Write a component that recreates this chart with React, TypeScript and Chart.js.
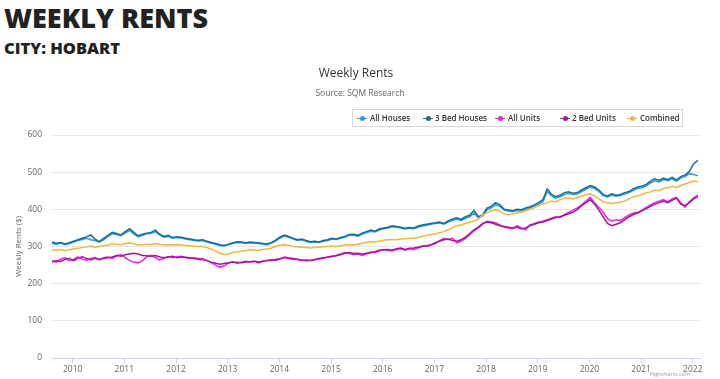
import { useEffect, useRef } from 'react';
import { Chart, registerables } from 'chart.js';
Chart.register(...registerables);

// Monthly series starting around Aug 2009 (decimal year 2009.6)
const START_YEAR = 2009.6;

const allHouses = [
  308, 306, 309, 305, 308, 312, 316, 319, 322, 318, 316, 312,
  318, 327, 334, 332, 329, 336, 343, 334, 326, 330, 334, 335,
  340, 331, 325, 327, 322, 324, 323, 320, 318, 316, 315, 316,
  312, 309, 306, 303, 302, 305, 308, 311, 310, 309, 310, 309,
  308, 306, 305, 309, 315, 323, 328, 325, 320, 316, 318, 314,
  311, 312, 311, 314, 316, 320, 319, 322, 325, 330, 331, 328,
  333, 337, 341, 339, 344, 348, 350, 353, 352, 350, 347, 349,
  348, 352, 355, 357, 360, 362, 363, 360, 366, 370, 373, 370,
  376, 380, 390, 378, 382, 398, 404, 412, 408, 398, 395, 394,
  397, 396, 400, 404, 408, 414, 420, 448, 436, 430, 434, 440,
  443, 440, 441, 448, 454, 460, 456, 448, 437, 433, 438, 435,
  437, 441, 445, 451, 456, 458, 463, 471, 477, 474, 480, 477,
  482, 476, 484, 488, 496, 494, 490,
];

const threeBedHouses = [
  312, 309, 311, 307, 310, 314, 318, 322, 326, 331, 320, 313,
  322, 330, 338, 335, 331, 340, 348, 338, 329, 333, 336, 338,
  344, 333, 327, 330, 324, 326, 325, 322, 320, 318, 317, 318,
  314, 311, 308, 305, 303, 306, 310, 313, 312, 310, 312, 311,
  310, 308, 307, 311, 318, 326, 331, 327, 322, 318, 320, 316,
  313, 314, 312, 316, 318, 322, 320, 324, 327, 332, 333, 330,
  336, 340, 344, 341, 347, 350, 352, 356, 354, 352, 349, 351,
  350, 355, 358, 360, 362, 364, 366, 362, 369, 374, 377, 373,
  380, 384, 397, 380, 385, 403, 408, 418, 412, 400, 398, 396,
  400, 399, 404, 407, 412, 418, 426, 455, 440, 434, 438, 445,
  447, 443, 445, 452, 458, 464, 460, 452, 440, 436, 442, 438,
  440, 445, 448, 455, 460, 462, 467, 476, 482, 478, 484, 480,
  486, 479, 488, 492, 502, 522, 532,
];

const allUnits = [
  262, 258, 266, 270, 262, 265, 272, 266, 263, 268, 270, 264,
  270, 272, 268, 275, 278, 270, 262, 258, 256, 262, 272, 276,
  270, 264, 268, 273, 270, 272, 274, 270, 268, 270, 267, 268,
  262, 256, 250, 244, 248, 256, 258, 255, 258, 260, 258, 260,
  256, 260, 263, 262, 266, 268, 272, 270, 268, 265, 262, 264,
  262, 264, 266, 268, 272, 274, 276, 280, 284, 282, 278, 280,
  276, 280, 285, 283, 288, 292, 290, 288, 292, 294, 290, 294,
  292, 296, 302, 300, 304, 308, 316, 322, 318, 322, 310, 314,
  322, 332, 342, 350, 360, 368, 366, 364, 358, 352, 350, 348,
  356, 350, 345, 358, 362, 366, 368, 372, 376, 380, 378, 386,
  392, 398, 404, 412, 422, 432, 418, 405, 392, 375, 368, 372,
  370, 378, 385, 390, 392, 398, 405, 412, 418, 422, 426, 420,
  428, 432, 418, 406, 420, 430, 438,
];

const twoBedUnits = [
  258, 262, 260, 265, 268, 262, 268, 272, 268, 264, 268, 266,
  268, 270, 272, 276, 274, 278, 280, 282, 280, 276, 275, 274,
  276, 272, 270, 272, 274, 270, 272, 271, 270, 268, 266, 264,
  262, 258, 255, 252, 254, 256, 258, 257, 256, 258, 259, 260,
  258, 261, 262, 264, 263, 266, 270, 268, 266, 266, 264, 262,
  263, 265, 268, 270, 271, 273, 275, 278, 282, 284, 281, 282,
  280, 282, 283, 286, 290, 291, 292, 290, 294, 296, 292, 295,
  296, 298, 300, 302, 305, 310, 314, 318, 320, 316, 314, 318,
  325, 335, 345, 352, 362, 366, 364, 360, 356, 354, 352, 350,
  352, 348, 350, 356, 360, 364, 366, 370, 374, 378, 380, 384,
  388, 392, 400, 410, 418, 426, 414, 398, 380, 362, 356, 360,
  364, 372, 380, 386, 390, 396, 402, 408, 414, 418, 422, 418,
  424, 430, 414, 410, 418, 428, 434,
];

const combined = [
  291, 290, 292, 289, 291, 293, 295, 297, 299, 301, 298, 300,
  302, 304, 307, 306, 305, 308, 310, 307, 304, 305, 306, 305,
  308, 306, 304, 305, 304, 305, 304, 303, 302, 301, 300, 300,
  297, 293, 288, 282, 278, 280, 284, 286, 287, 289, 291, 290,
  290, 292, 293, 296, 300, 304, 305, 303, 300, 299, 298, 297,
  296, 297, 298, 299, 300, 301, 300, 302, 304, 305, 304, 306,
  309, 311, 313, 312, 314, 317, 318, 319, 318, 320, 321, 322,
  322, 324, 327, 330, 332, 334, 337, 340, 345, 350, 356, 358,
  362, 366, 368, 374, 385, 390, 396, 399, 395, 388, 385, 388,
  390, 392, 396, 400, 405, 410, 414, 418, 422, 420, 426, 430,
  431, 428, 432, 436, 440, 442, 436, 428, 420, 418, 416, 418,
  419, 422, 428, 434, 436, 440, 445, 447, 452, 450, 456, 458,
  462, 458, 464, 468, 472, 476, 474,
];

const seriesNames = ['All Houses', '3 Bed Houses', 'All Units', '2 Bed Units', 'Combined'];
const seriesColors = ['#2b9de0', '#1a6a96', '#ee22e6', '#9e1a96', '#f5b43a'];
const seriesData = [allHouses, threeBedHouses, allUnits, twoBedUnits, combined];

const xTickYears = [2010, 2011, 2012, 2013, 2014, 2015, 2016, 2017, 2018, 2019, 2020, 2021, 2022];
const yTickValues = [0, 100, 200, 300, 400, 500, 600];

const legendMarkerX = [357, 423, 495, 560, 627];
const legendTextX = [370, 435, 508, 572, 640];

export default function App() {
  const ref = useRef<HTMLCanvasElement>(null);

  useEffect(() => {
    document.body.style.margin = '0';
    const canvas = ref.current;
    if (!canvas) return;
    const chart = new Chart(canvas, {
      type: 'line',
      data: {
        datasets: seriesData.map((d, k) => ({
          label: seriesNames[k],
          data: d.map((v, i) => ({ x: START_YEAR + i / 12, y: v })),
          borderColor: seriesColors[k],
          backgroundColor: seriesColors[k],
          borderWidth: 1.5,
          pointRadius: 0,
          tension: 0,
          order: seriesData.length - k,
        })),
      },
      options: {
        responsive: false,
        animation: false,
        devicePixelRatio: 1,
        layout: { padding: { left: 10, right: 20, top: 135, bottom: 0 } },
        plugins: { legend: { display: false }, tooltip: { enabled: false }, title: { display: false } },
        scales: {
          x: {
            type: 'linear',
            min: 2009.6,
            max: 2022.14,
            afterBuildTicks: (s: any) => {
              s.ticks = xTickYears.map((v) => ({ value: v }));
            },
            afterFit: (s: any) => {
              s.height = 21;
            },
            ticks: {
              autoSkip: false,
              maxRotation: 0,
              padding: 1,
              color: '#666666',
              font: { family: 'Open Sans', size: 8.5 },
              callback: (v: any) => String(v),
            },
            grid: { drawOnChartArea: false, drawTicks: true, tickLength: 5, color: '#ccd6eb' },
            border: { color: '#ccd6eb' },
          },
          y: {
            min: 0,
            max: 600,
            afterBuildTicks: (s: any) => {
              s.ticks = yTickValues.map((v) => ({ value: v }));
            },
            afterFit: (s: any) => {
              s.width = 42;
            },
            ticks: {
              padding: 10,
              color: '#666666',
              font: { family: 'Open Sans', size: 8.5 },
              callback: (v: any) => String(v),
            },
            grid: { color: '#e6e6e6', drawTicks: false },
            border: { display: false },
            title: {
              display: true,
              text: 'Weekly Rents ($)',
              color: '#666666',
              font: { family: 'Open Sans', size: 8 },
              padding: { top: 4, bottom: 0 },
            },
          },
        },
      },
    } as any);
    return () => chart.destroy();
  }, []);

  return (
    <div style={{ position: 'relative', width: 720, height: 379, overflow: 'hidden', background: '#ffffff' }}>
      <div style={{ position: 'absolute', left: 4, top: 4, fontFamily: "'Open Sans', sans-serif", fontWeight: 800, fontSize: 27, lineHeight: 1, color: '#222', whiteSpace: 'nowrap' }}>
        WEEKLY RENTS
      </div>
      <div style={{ position: 'absolute', left: 4, top: 40, fontFamily: "'Open Sans', sans-serif", fontWeight: 800, fontSize: 16.5, lineHeight: 1, color: '#222', whiteSpace: 'nowrap' }}>
        CITY: HOBART
      </div>
      <canvas ref={ref} width={720} height={379} style={{ position: 'absolute', left: 0, top: 0, width: 720, height: 379 }} />
      <div style={{ position: 'absolute', left: 0, width: 712, top: 67, textAlign: 'center', fontFamily: "'Open Sans', sans-serif", fontSize: 12, lineHeight: 1, color: '#333333' }}>
        Weekly Rents
      </div>
      <div style={{ position: 'absolute', left: 0, width: 720, top: 88.5, textAlign: 'center', fontFamily: "'Open Sans', sans-serif", fontSize: 8.5, lineHeight: 1, color: '#666666' }}>
        Source: SQM Research
      </div>
      <div style={{ position: 'absolute', left: 352, top: 109, width: 331, height: 18, border: '1px solid #d8d8d8', boxSizing: 'border-box' }} />
      {seriesNames.map((n, k) => (
        <div key={n}>
          <div style={{ position: 'absolute', left: legendMarkerX[k], top: 117.5, width: 10, height: 1.5, background: seriesColors[k] }} />
          <div style={{ position: 'absolute', left: legendMarkerX[k] + 2.5, top: 115.8, width: 5, height: 5, borderRadius: '50%', background: seriesColors[k] }} />
          <div style={{ position: 'absolute', left: legendTextX[k], top: 113.5, fontFamily: "'Open Sans', sans-serif", fontWeight: 600, fontSize: 8, lineHeight: 1, color: '#333333', whiteSpace: 'nowrap' }}>
            {n}
          </div>
        </div>
      ))}
      <div style={{ position: 'absolute', right: 30, top: 372, fontFamily: "'Open Sans', sans-serif", fontSize: 5.5, lineHeight: 1, color: '#999999' }}>
        Highcharts.com
      </div>
    </div>
  );
}
